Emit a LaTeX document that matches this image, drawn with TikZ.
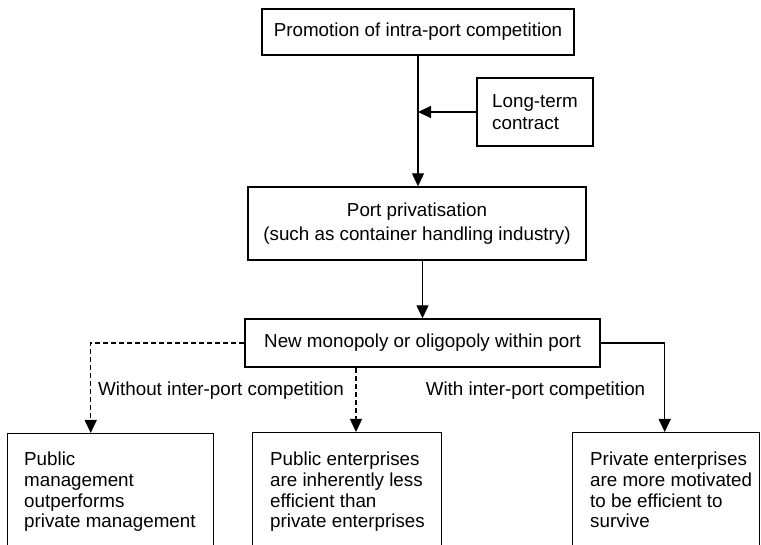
\documentclass[tikz,border=0pt]{standalone}
\usepackage{fontspec}
\setmainfont{Liberation Sans}
\usetikzlibrary{arrows.meta,calc}

\newcommand{\boxfont}[1]{\fontsize{18.8}{#1}\selectfont}

\begin{document}
\begin{tikzpicture}[x=1pt,y=-1pt,
  box/.style={draw, line width=1.4pt, inner sep=0pt, align=center, font=\boxfont{24}},
  outbox/.style={draw, line width=1.4pt, inner sep=0pt, anchor=north west},
  outtext/.style={inner sep=0pt, anchor=north west, align=left, font=\boxfont{20.9}},
  lbl/.style={inner sep=0pt, font=\boxfont{24}},
  conn/.style={line width=1.3pt, -{Triangle[length=13pt,width=12pt]}},
  dashconn/.style={conn, dash pattern=on 5pt off 3pt}
]
\useasboundingbox (0,0) rectangle (761,545);
\clip (0,0) rectangle (761,545);

% upper chain
\node[box, minimum width=312, minimum height=46] (top) at (418,32)
  {Promotion of intra-port competition};
\node[box, minimum width=116, minimum height=68, align=left, font=\boxfont{22}] (lt) at (535,112)
  {Long-term\\contract};
\node[box, minimum width=338, minimum height=73] (port) at (417,223.5)
  {Port privatisation\\(such as container handling industry)};
\node[box, minimum width=355, minimum height=48] (mono) at (422.5,343)
  {New monopoly or oligopoly within port};

% outcome boxes (run past the lower edge)
\node[outbox, minimum width=206, minimum height=150] (b1) at (7,433) {};
\node[outbox, minimum width=189, minimum height=150] (b2) at (252,432) {};
\node[outbox, minimum width=187, minimum height=150] (b3) at (572,432) {};

\node[outtext] (t1) at (24,451.4) {Public\\management\\outperforms\\private management};
\node[outtext] (t2) at (270,451.4) {Public enterprises\\are inherently less\\efficient than\\private enterprises};
\node[outtext] (t3) at (590,451.4) {Private enterprises\\are more motivated\\to be efficient to\\survive};

% branch labels
\node[lbl] (wo) at (221,391) {Without inter-port competition};
\node[lbl] (wi) at (535.5,391) {With inter-port competition};

% connectors
\draw[conn] (top.south) -- (top.south |- port.north);
\draw[conn] (lt.west) -- (top.south |- lt.west);
\draw[conn] (mono.north |- port.south) -- (mono.north);
\draw[dashconn] (mono.west) -| ([xshift=-20pt]b1.north);
\draw[dashconn] ([xshift=-66.5pt]mono.south) -- ([xshift=-66.5pt]mono.south |- b2.north);
\draw[conn] (mono.east) -| ([xshift=-1.5pt]b3.north);
\end{tikzpicture}
\end{document}
